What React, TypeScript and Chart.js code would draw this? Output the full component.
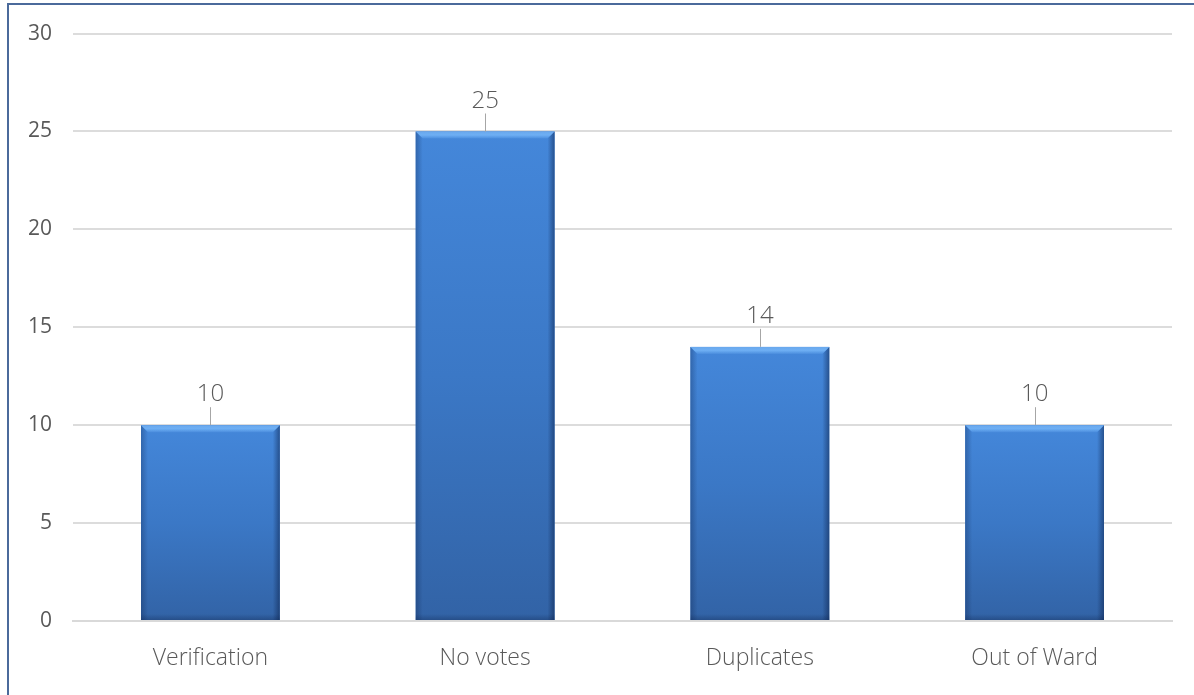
import React, { useEffect, useRef } from "react";
import { Chart, registerables } from "chart.js";

Chart.register(...registerables);

const categories: string[] = ["Verification", "No votes", "Duplicates", "Out of Ward"];
const counts: number[] = [10, 25, 14, 10];
const yTicks: number[] = [0, 5, 10, 15, 20, 25, 30];

const FONT = "'Open Sans', 'Noto Sans', sans-serif";

const bevelPlugin = {
  id: "bevel",
  afterDatasetsDraw(chart: any) {
    const ctx = chart.ctx;
    const meta = chart.getDatasetMeta(0);
    meta.data.forEach((bar: any) => {
      const { x, y, base, width } = bar.getProps(["x", "y", "base", "width"], true);
      const l = x - width / 2;
      const r = x + width / 2;
      const t = y;
      const b = base;
      const e = 7;
      ctx.save();
      let g = ctx.createLinearGradient(0, t, 0, b);
      g.addColorStop(0, "#4487da");
      g.addColorStop(0.5, "#3b78c6");
      g.addColorStop(1, "#3263a6");
      ctx.fillStyle = g;
      ctx.fillRect(l, t, width, b - t);
      g = ctx.createLinearGradient(l, 0, l + e, 0);
      g.addColorStop(0, "rgba(10,30,70,0.3)");
      g.addColorStop(1, "rgba(10,30,70,0)");
      ctx.fillStyle = g;
      ctx.beginPath();
      ctx.moveTo(l, t);
      ctx.lineTo(l + e, t + e);
      ctx.lineTo(l + e, b);
      ctx.lineTo(l, b);
      ctx.closePath();
      ctx.fill();
      g = ctx.createLinearGradient(r, 0, r - e, 0);
      g.addColorStop(0, "rgba(10,30,70,0.5)");
      g.addColorStop(1, "rgba(10,30,70,0)");
      ctx.fillStyle = g;
      ctx.beginPath();
      ctx.moveTo(r, t);
      ctx.lineTo(r - e, t + e);
      ctx.lineTo(r - e, b);
      ctx.lineTo(r, b);
      ctx.closePath();
      ctx.fill();
      g = ctx.createLinearGradient(0, t, 0, t + e);
      g.addColorStop(0, "rgba(130,190,250,0.6)");
      g.addColorStop(0.5, "rgba(120,185,250,0.8)");
      g.addColorStop(1, "rgba(120,185,250,0.15)");
      ctx.fillStyle = g;
      ctx.beginPath();
      ctx.moveTo(l, t);
      ctx.lineTo(r, t);
      ctx.lineTo(r - e, t + e);
      ctx.lineTo(l + e, t + e);
      ctx.closePath();
      ctx.fill();
      g = ctx.createLinearGradient(0, b, 0, b - 6);
      g.addColorStop(0, "rgba(10,30,70,0.3)");
      g.addColorStop(1, "rgba(10,30,70,0)");
      ctx.fillStyle = g;
      ctx.fillRect(l, b - 6, width, 6);
      ctx.restore();
    });
  },
};

const labelPlugin = {
  id: "barLabels",
  afterDatasetsDraw(chart: any) {
    const ctx = chart.ctx;
    const meta = chart.getDatasetMeta(0);
    const data = chart.data.datasets[0].data as number[];
    ctx.save();
    meta.data.forEach((bar: any, i: number) => {
      const { x, y } = bar.getProps(["x", "y"], true);
      ctx.strokeStyle = "#a6a6a6";
      ctx.lineWidth = 1;
      ctx.beginPath();
      ctx.moveTo(Math.round(x) + 0.5, y);
      ctx.lineTo(Math.round(x) + 0.5, y - 18);
      ctx.stroke();
      ctx.fillStyle = "#595959";
      ctx.font = `300 24px ${FONT}`;
      ctx.textAlign = "center";
      ctx.textBaseline = "alphabetic";
      ctx.fillText(String(data[i]), x, y - 24);
    });
    ctx.restore();
  },
};

export default function App() {
  const ref = useRef<HTMLCanvasElement | null>(null);

  useEffect(() => {
    document.body.style.margin = "0";
    const canvas = ref.current!;
    const chart = new Chart(canvas, {
      type: "bar",
      data: {
        labels: categories,
        datasets: [
          {
            data: counts,
            backgroundColor: "#3b78c6",
            borderWidth: 0,
            barPercentage: 0.505,
            categoryPercentage: 1,
          },
        ],
      },
      options: {
        responsive: false,
        animation: false,
        layout: { padding: { top: 32, right: 22, left: 0, bottom: 0 } },
        plugins: {
          legend: { display: false },
          tooltip: { enabled: false },
        },
        scales: {
          x: {
            grid: { display: false, drawTicks: false },
            border: { display: true, color: "#d9d9d9", width: 2 },
            ticks: {
              color: "#595959",
              font: { family: FONT, size: 23, weight: "300" as any },
              padding: 24,
            },
            afterFit: (s: any) => {
              s.height = 74;
            },
          },
          y: {
            min: 0,
            max: 30,
            afterBuildTicks: (s: any) => {
              s.ticks = yTicks.map((v) => ({ value: v }));
            },
            grid: { color: "#dcdcdc", lineWidth: 2, drawTicks: false },
            border: { display: false },
            ticks: {
              color: "#595959",
              font: { family: FONT, size: 21 },
              padding: 21,
            },
            afterFit: (s: any) => {
              s.width = 73;
            },
          },
        },
      },
      plugins: [bevelPlugin, labelPlugin],
    });
    return () => chart.destroy();
  }, []);

  return (
    <div style={{ position: "relative", width: 1194, height: 695, background: "#fff", overflow: "hidden" }}>
      <canvas ref={ref} width={1194} height={695} style={{ position: "absolute", left: 0, top: 0 }} />
      <div
        style={{
          position: "absolute",
          left: 7,
          top: 3,
          width: 1200,
          height: 700,
          borderLeft: "2px solid #4b6a9b",
          borderTop: "2px solid #4b6a9b",
          pointerEvents: "none",
        }}
      />
    </div>
  );
}
